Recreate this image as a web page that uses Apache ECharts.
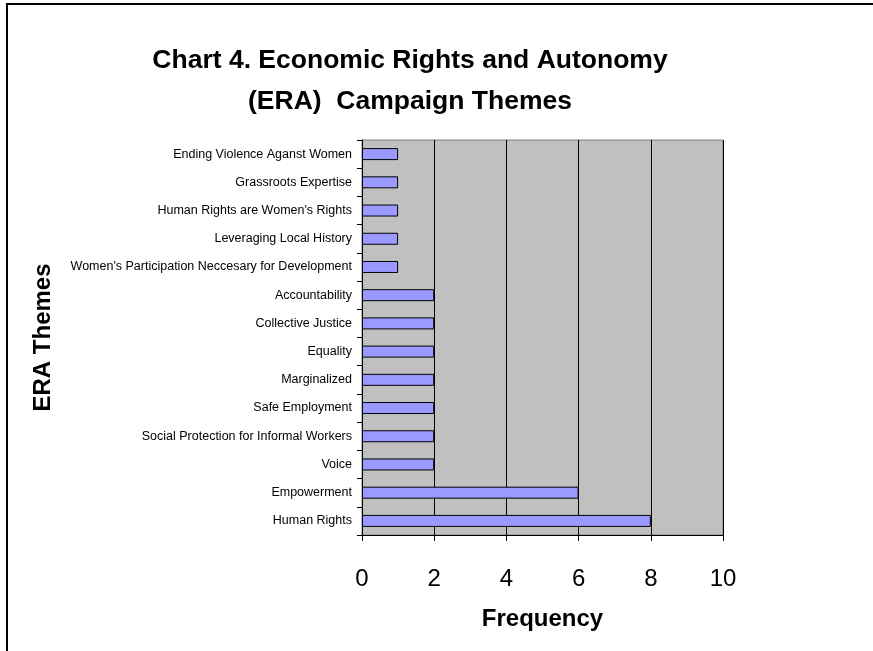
<!DOCTYPE html>
<html>
<head>
<meta charset="utf-8">
<script src="https://cdn.jsdelivr.net/npm/echarts@6/dist/echarts.min.js"></script>
<style>
  html, body { margin: 0; padding: 0; background: #fff; }
  #chart { width: 873px; height: 651px; }
</style>
</head>
<body>
<div id="chart"></div>
<script>
// Theme names, top to bottom
const themes = [
  "Ending Violence Aganst Women",
  "Grassroots Expertise",
  "Human Rights are Women's Rights",
  "Leveraging Local History",
  "Women's Participation Neccesary for Development",
  "Accountability",
  "Collective Justice",
  "Equality",
  "Marginalized",
  "Safe Employment",
  "Social Protection for Informal Workers",
  "Voice",
  "Empowerment",
  "Human Rights"
];
// How often each theme appears
const frequency = [1, 1, 1, 1, 1, 2, 2, 2, 2, 2, 2, 2, 6, 8];
// Frequency axis range
const freqMin = 0;
const freqMax = 10;
const freqStep = 2;

const FONT = "'Liberation Sans', Arial, Helvetica, sans-serif";

const chart = echarts.init(document.getElementById('chart'));
chart.setOption({
  animation: false,
  backgroundColor: '#ffffff',
  title: {
    text: 'Chart 4. Economic Rights and Autonomy\n(ERA)  Campaign Themes',
    left: 405,
    top: 35,
    textAlign: 'center',
    textStyle: {
      fontFamily: FONT,
      fontWeight: 'bold',
      fontSize: 26.5,
      lineHeight: 41,
      color: '#000'
    }
  },
  graphic: [{
    type: 'rect',
    shape: { x: 7, y: 4, width: 900, height: 700 },
    style: { fill: 'none', stroke: '#000', lineWidth: 2 },
    silent: true
  }],
  grid: {
    left: 362,
    right: 150,
    top: 140,
    bottom: 116,
    show: true,
    backgroundColor: '#C0C0C0',
    borderColor: '#808080',
    borderWidth: 1
  },
  xAxis: {
    type: 'value',
    min: freqMin,
    max: freqMax,
    interval: freqStep,
    name: 'Frequency',
    nameLocation: 'middle',
    nameGap: 72,
    nameTextStyle: { fontFamily: FONT, fontWeight: 'bold', fontSize: 24, color: '#000' },
    axisLine: { show: true, lineStyle: { color: '#000', width: 1 } },
    axisTick: { show: true, length: 6, lineStyle: { color: '#000' } },
    axisLabel: { fontFamily: FONT, fontSize: 24, color: '#000', margin: 32 },
    splitLine: { show: true, lineStyle: { color: '#000', width: 1 } }
  },
  yAxis: {
    type: 'category',
    data: themes,
    inverse: true,
    name: 'ERA Themes',
    nameLocation: 'middle',
    nameRotate: 90,
    nameGap: 307,
    nameTextStyle: { fontFamily: FONT, fontWeight: 'bold', fontSize: 24, color: '#000' },
    axisLine: { show: true, lineStyle: { color: '#000', width: 1 } },
    axisTick: { show: true, length: 5, alignWithLabel: false, lineStyle: { color: '#000' } },
    axisLabel: { fontFamily: FONT, fontSize: 12.5, color: '#000', margin: 10, interval: 0 },
    splitLine: { show: false }
  },
  series: [{
    type: 'bar',
    data: frequency,
    barWidth: 12,
    itemStyle: { color: '#9999FF', borderColor: '#000', borderWidth: 1 }
  }]
});
</script>
</body>
</html>
